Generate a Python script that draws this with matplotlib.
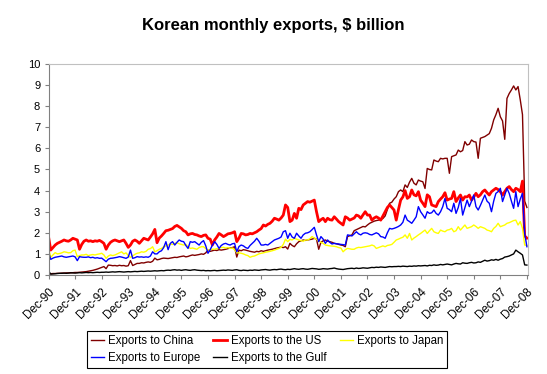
import numpy as np
import matplotlib
matplotlib.use("Agg")
import matplotlib.pyplot as plt

plt.rcParams['font.family'] = ['Liberation Sans', 'DejaVu Sans']

# monthly values, Dec-90 .. Dec-08 ($ billion)
china = [0.05,
    0.06, 0.07, 0.07, 0.08, 0.08, 0.09, 0.09, 0.10, 0.10, 0.11, 0.11, 0.12,
    0.12, 0.13, 0.14, 0.15, 0.16, 0.18, 0.20, 0.22, 0.25, 0.28, 0.32, 0.36,
    0.40, 0.30, 0.47, 0.46, 0.44, 0.45, 0.43, 0.46, 0.44, 0.45, 0.42, 0.44,
    0.68, 0.45, 0.50, 0.55, 0.55, 0.58, 0.57, 0.60, 0.62, 0.60, 0.65, 0.80,
    0.72, 0.74, 0.78, 0.80, 0.79, 0.78, 0.80, 0.82, 0.84, 0.83, 0.86, 0.88,
    0.90, 0.86, 0.88, 0.92, 0.95, 0.93, 0.95, 0.97, 1.00, 0.98, 1.05, 1.18,
    1.12, 1.15, 1.18, 1.16, 1.20, 1.18, 1.20, 1.22, 1.25, 1.28, 1.30, 1.34,
    0.85, 1.18, 1.15, 1.20, 1.18, 1.15, 1.12, 1.10, 1.08, 1.12, 1.10, 1.15,
    1.12, 1.15, 1.18, 1.20, 1.22, 1.25, 1.28, 1.30, 1.32, 1.30, 1.34, 1.23,
    1.50, 1.40, 1.34, 1.48, 1.58, 1.62, 1.66, 1.64, 1.66, 1.68, 1.70, 1.74,
    1.70, 1.22, 1.55, 1.62, 1.66, 1.60, 1.58, 1.55, 1.50, 1.48, 1.45, 1.42,
    1.40, 1.34, 1.82, 1.86, 1.90, 2.10, 2.15, 2.20, 2.25, 2.30, 2.28, 2.37,
    2.45, 2.50, 2.55, 2.58, 2.60, 2.62, 2.68, 2.80, 3.10, 3.40, 3.45, 3.60,
    3.71, 3.95, 4.03, 3.95, 4.27, 4.15, 4.40, 4.58, 4.35, 4.27, 4.50, 4.45,
    4.42, 4.10, 5.05, 5.00, 4.98, 5.45, 5.40, 5.37, 5.53, 5.50, 5.53, 5.53,
    4.82, 5.61, 5.65, 5.69, 5.92, 5.84, 5.90, 6.32, 6.16, 6.20, 6.40, 6.32,
    6.30, 5.53, 6.48, 6.52, 6.56, 6.63, 6.70, 6.95, 7.35, 7.60, 7.90, 7.50,
    7.30, 6.43, 8.37, 8.60, 8.77, 8.96, 8.77, 8.93, 8.30, 7.60, 3.50, 3.20]

us = [1.82,
    1.18, 1.30, 1.42, 1.50, 1.55, 1.60, 1.66, 1.62, 1.60, 1.66, 1.74, 1.70,
    1.66, 1.22, 1.45, 1.60, 1.66, 1.60, 1.62, 1.58, 1.62, 1.60, 1.64, 1.58,
    1.50, 1.22, 1.42, 1.55, 1.62, 1.66, 1.62, 1.58, 1.62, 1.66, 1.50, 1.31,
    1.42, 1.60, 1.66, 1.60, 1.50, 1.62, 1.74, 1.70, 1.66, 1.80, 1.95, 2.16,
    1.53, 1.75, 1.85, 1.97, 2.10, 2.12, 2.16, 2.20, 2.30, 2.35, 2.28, 2.21,
    2.10, 2.05, 1.90, 1.95, 1.97, 1.92, 1.90, 1.85, 1.82, 1.88, 1.90, 1.74,
    1.70, 1.42, 1.66, 1.80, 1.97, 1.90, 1.82, 1.88, 1.95, 1.97, 2.00, 2.05,
    1.58, 1.75, 1.97, 1.95, 1.90, 1.92, 1.97, 1.95, 2.00, 2.05, 2.13, 2.20,
    2.37, 2.32, 2.40, 2.45, 2.55, 2.69, 2.65, 2.60, 2.70, 2.84, 3.32, 3.20,
    2.53, 2.60, 2.92, 2.69, 3.16, 3.10, 3.32, 3.40, 3.48, 3.45, 3.50, 3.55,
    3.00, 2.53, 2.62, 2.69, 2.53, 2.69, 2.62, 2.60, 2.76, 2.65, 2.53, 2.45,
    2.37, 2.76, 2.70, 2.60, 2.65, 2.70, 2.84, 2.80, 2.69, 2.85, 3.00, 2.84,
    2.84, 2.60, 2.70, 2.76, 2.70, 2.60, 2.80, 3.00, 3.20, 3.32, 3.20, 3.08,
    2.60, 3.10, 3.55, 3.70, 4.00, 3.63, 3.71, 4.03, 3.80, 3.75, 3.95, 3.55,
    3.40, 3.24, 3.80, 3.71, 3.32, 3.28, 3.24, 3.48, 3.60, 3.71, 3.90, 3.55,
    3.60, 3.63, 3.95, 3.48, 3.65, 3.79, 3.55, 3.71, 3.70, 3.79, 3.55, 3.70,
    3.87, 3.71, 3.80, 3.95, 4.03, 3.90, 3.79, 3.95, 4.03, 4.11, 4.05, 3.95,
    3.79, 3.95, 4.11, 4.19, 4.05, 3.95, 4.11, 4.05, 3.95, 4.45, 1.85, 1.75]

japan = [1.26,
    0.84, 0.95, 1.06, 1.00, 1.02, 1.05, 1.10, 1.08, 1.05, 1.06, 1.15, 1.18,
    0.87, 0.92, 0.95, 0.95, 0.98, 0.92, 0.95, 0.97, 0.95, 0.98, 1.00, 1.03,
    0.95, 0.79, 0.90, 0.95, 0.92, 0.95, 1.00, 1.05, 1.10, 1.00, 1.05, 0.92,
    0.84, 0.90, 0.98, 1.03, 1.05, 1.10, 1.08, 1.12, 1.22, 1.25, 1.34, 1.10,
    1.15, 1.22, 1.26, 1.34, 1.38, 1.42, 1.47, 1.45, 1.50, 1.53, 1.48, 1.45,
    1.42, 1.45, 1.35, 1.26, 1.28, 1.25, 1.22, 1.30, 1.34, 1.34, 1.25, 1.18,
    1.20, 1.22, 1.22, 1.25, 1.28, 1.30, 1.31, 1.28, 1.30, 1.26, 1.28, 1.20,
    1.06, 1.05, 1.03, 1.00, 0.95, 0.92, 0.84, 0.88, 0.90, 0.95, 1.00, 1.03,
    1.05, 1.08, 1.10, 1.12, 1.15, 1.18, 1.22, 1.26, 1.31, 1.45, 1.70, 1.58,
    1.69, 1.66, 1.74, 1.70, 1.66, 1.63, 1.60, 1.66, 1.66, 1.72, 1.82, 1.75,
    1.69, 1.60, 1.55, 1.50, 1.42, 1.40, 1.38, 1.37, 1.36, 1.34, 1.30, 1.28,
    1.10, 1.20, 1.26, 1.24, 1.22, 1.22, 1.28, 1.31, 1.30, 1.32, 1.34, 1.36,
    1.38, 1.42, 1.38, 1.26, 1.30, 1.34, 1.38, 1.34, 1.40, 1.42, 1.45, 1.55,
    1.66, 1.70, 1.75, 1.79, 1.90, 1.74, 1.97, 1.66, 1.75, 1.82, 1.90, 1.97,
    2.05, 2.13, 1.97, 2.10, 2.21, 2.05, 2.00, 1.97, 2.13, 2.08, 2.05, 2.13,
    2.15, 2.21, 2.05, 2.10, 2.29, 2.13, 2.25, 2.37, 2.21, 2.25, 2.29, 2.37,
    2.30, 2.21, 2.29, 2.25, 2.21, 2.13, 2.10, 2.05, 2.21, 2.30, 2.45, 2.29,
    2.33, 2.37, 2.45, 2.48, 2.53, 2.58, 2.60, 2.37, 2.53, 2.21, 1.42, 1.40]

europe = [1.10,
    0.74, 0.80, 0.84, 0.86, 0.88, 0.90, 0.86, 0.84, 0.86, 0.88, 0.90, 0.86,
    0.68, 0.87, 0.85, 0.84, 0.84, 0.86, 0.82, 0.84, 0.80, 0.82, 0.79, 0.80,
    0.72, 0.63, 0.75, 0.79, 0.80, 0.82, 0.84, 0.87, 0.85, 0.82, 0.79, 0.85,
    1.18, 0.79, 0.82, 0.87, 0.85, 0.86, 0.84, 0.86, 0.84, 0.90, 1.10, 1.00,
    1.00, 1.10, 1.15, 1.30, 1.58, 1.20, 1.50, 1.58, 1.42, 1.55, 1.66, 1.60,
    1.58, 1.40, 1.26, 1.58, 1.55, 1.58, 1.50, 1.42, 1.55, 1.63, 1.38, 1.03,
    1.20, 1.42, 1.58, 1.45, 1.26, 1.40, 1.47, 1.50, 1.45, 1.42, 1.48, 1.50,
    1.10, 1.35, 1.42, 1.38, 1.30, 1.26, 1.40, 1.50, 1.60, 1.74, 1.60, 1.42,
    1.42, 1.45, 1.42, 1.50, 1.58, 1.66, 1.70, 1.74, 1.80, 2.05, 2.10, 1.74,
    1.98, 1.80, 1.74, 1.98, 1.85, 1.74, 1.90, 1.98, 2.00, 2.05, 2.15, 2.26,
    1.90, 1.58, 1.82, 1.70, 1.50, 1.66, 1.55, 1.47, 1.50, 1.48, 1.47, 1.45,
    1.44, 1.42, 1.90, 1.88, 1.85, 1.95, 2.05, 1.95, 1.90, 1.98, 2.00, 1.98,
    1.92, 1.90, 1.95, 2.00, 1.95, 1.82, 1.80, 1.74, 2.00, 2.21, 2.18, 2.21,
    2.25, 2.30, 2.37, 2.50, 2.84, 2.60, 2.53, 2.45, 2.60, 2.76, 3.24, 3.00,
    2.85, 2.69, 3.00, 2.92, 2.95, 3.08, 2.92, 2.84, 3.00, 3.24, 3.63, 3.16,
    3.10, 3.00, 3.40, 2.92, 3.20, 3.63, 2.84, 3.20, 3.55, 3.24, 3.50, 3.79,
    3.24, 3.08, 3.30, 3.55, 3.79, 3.50, 3.40, 3.00, 3.50, 3.87, 3.95, 4.11,
    3.48, 3.80, 4.11, 3.87, 3.50, 3.16, 3.95, 3.24, 3.60, 3.87, 1.97, 1.34]

gulf = [0.20,
    0.04, 0.05, 0.06, 0.07, 0.08, 0.08, 0.09, 0.08, 0.09, 0.10, 0.10, 0.09,
    0.10, 0.11, 0.10, 0.11, 0.12, 0.11, 0.12, 0.11, 0.12, 0.13, 0.12, 0.13,
    0.13, 0.14, 0.13, 0.14, 0.15, 0.14, 0.15, 0.16, 0.15, 0.14, 0.15, 0.16,
    0.15, 0.16, 0.17, 0.16, 0.17, 0.18, 0.17, 0.18, 0.19, 0.18, 0.19, 0.20,
    0.19, 0.20, 0.21, 0.20, 0.22, 0.23, 0.22, 0.24, 0.25, 0.23, 0.24, 0.22,
    0.24, 0.25, 0.23, 0.22, 0.24, 0.25, 0.23, 0.22, 0.21, 0.22, 0.20, 0.21,
    0.20, 0.21, 0.22, 0.20, 0.21, 0.22, 0.23, 0.22, 0.24, 0.23, 0.22, 0.24,
    0.25, 0.22, 0.21, 0.23, 0.22, 0.21, 0.23, 0.22, 0.24, 0.23, 0.22, 0.24,
    0.25, 0.26, 0.24, 0.23, 0.25, 0.26, 0.25, 0.27, 0.28, 0.26, 0.25, 0.27,
    0.26, 0.28, 0.30, 0.28, 0.27, 0.29, 0.30, 0.28, 0.27, 0.29, 0.31, 0.30,
    0.29, 0.27, 0.28, 0.30, 0.29, 0.28, 0.30, 0.31, 0.33, 0.30, 0.28, 0.27,
    0.26, 0.28, 0.30, 0.31, 0.32, 0.30, 0.33, 0.31, 0.32, 0.34, 0.33, 0.32,
    0.34, 0.36, 0.35, 0.37, 0.36, 0.38, 0.37, 0.36, 0.38, 0.40, 0.39, 0.40,
    0.40, 0.41, 0.40, 0.42, 0.41, 0.40, 0.42, 0.41, 0.43, 0.42, 0.44, 0.43,
    0.44, 0.45, 0.43, 0.46, 0.45, 0.48, 0.46, 0.47, 0.50, 0.48, 0.50, 0.52,
    0.50, 0.48, 0.52, 0.55, 0.53, 0.52, 0.58, 0.56, 0.55, 0.58, 0.60, 0.57,
    0.58, 0.62, 0.60, 0.65, 0.70, 0.66, 0.68, 0.72, 0.70, 0.74, 0.70, 0.75,
    0.78, 0.85, 0.87, 0.90, 0.95, 1.00, 1.18, 1.10, 1.03, 0.95, 0.48, 0.47]

tick_labels = ['Dec-%02d' % (y % 100) for y in range(1990, 2009)]

months = np.arange(len(china))

fig = plt.figure(figsize=(5.47, 3.74), dpi=100)
ax = fig.add_axes([0.0887, 0.2647, 0.8766, 0.5642])

l_cn, = ax.plot(months, china, color='#800000', lw=1.0, label='Exports to China')
l_us, = ax.plot(months, us, color='#ff0000', lw=2.0, label='Exports to the US')
l_jp, = ax.plot(months, japan, color='#ffff00', lw=1.0, label='Exports to Japan')
l_eu, = ax.plot(months, europe, color='#0000ff', lw=1.0, label='Exports to Europe')
l_gf, = ax.plot(months, gulf, color='#000000', lw=1.0, label='Exports to the Gulf')

ax.set_xlim(0, 216.5)
ax.set_ylim(0, 10)
ax.set_yticks(range(0, 11))
ax.set_xticks(np.arange(0, 217, 12))
ax.set_xticklabels(tick_labels, rotation=45, ha='right', rotation_mode='anchor')
ax.tick_params(length=3, width=0.8, color='#808080')
ax.tick_params(axis='y', labelsize=8, pad=3)
ax.tick_params(axis='x', labelsize=8.5, pad=5)

for s in ['left', 'bottom']:
    ax.spines[s].set_color('#808080')
for s in ['top', 'right']:
    ax.spines[s].set_color('#c0c0c0')

fig.text(0.50, 0.932, 'Korean monthly exports, $ billion', ha='center', va='center',
         fontsize=12, fontweight='bold')

order = [l_cn, l_eu, l_us, l_gf, l_jp]
leg = fig.legend(order, [l.get_label() for l in order],
                 loc='center', bbox_to_anchor=(0.488, 0.0655), ncol=3,
                 fontsize=8.3, frameon=True, fancybox=False, framealpha=1,
                 handlelength=1.2, handletextpad=0.3, columnspacing=1.15,
                 labelspacing=0.45, borderpad=0.3, borderaxespad=0)
leg.get_frame().set_edgecolor('black')
leg.get_frame().set_linewidth(0.8)

fig.savefig('out.png', dpi=100)
